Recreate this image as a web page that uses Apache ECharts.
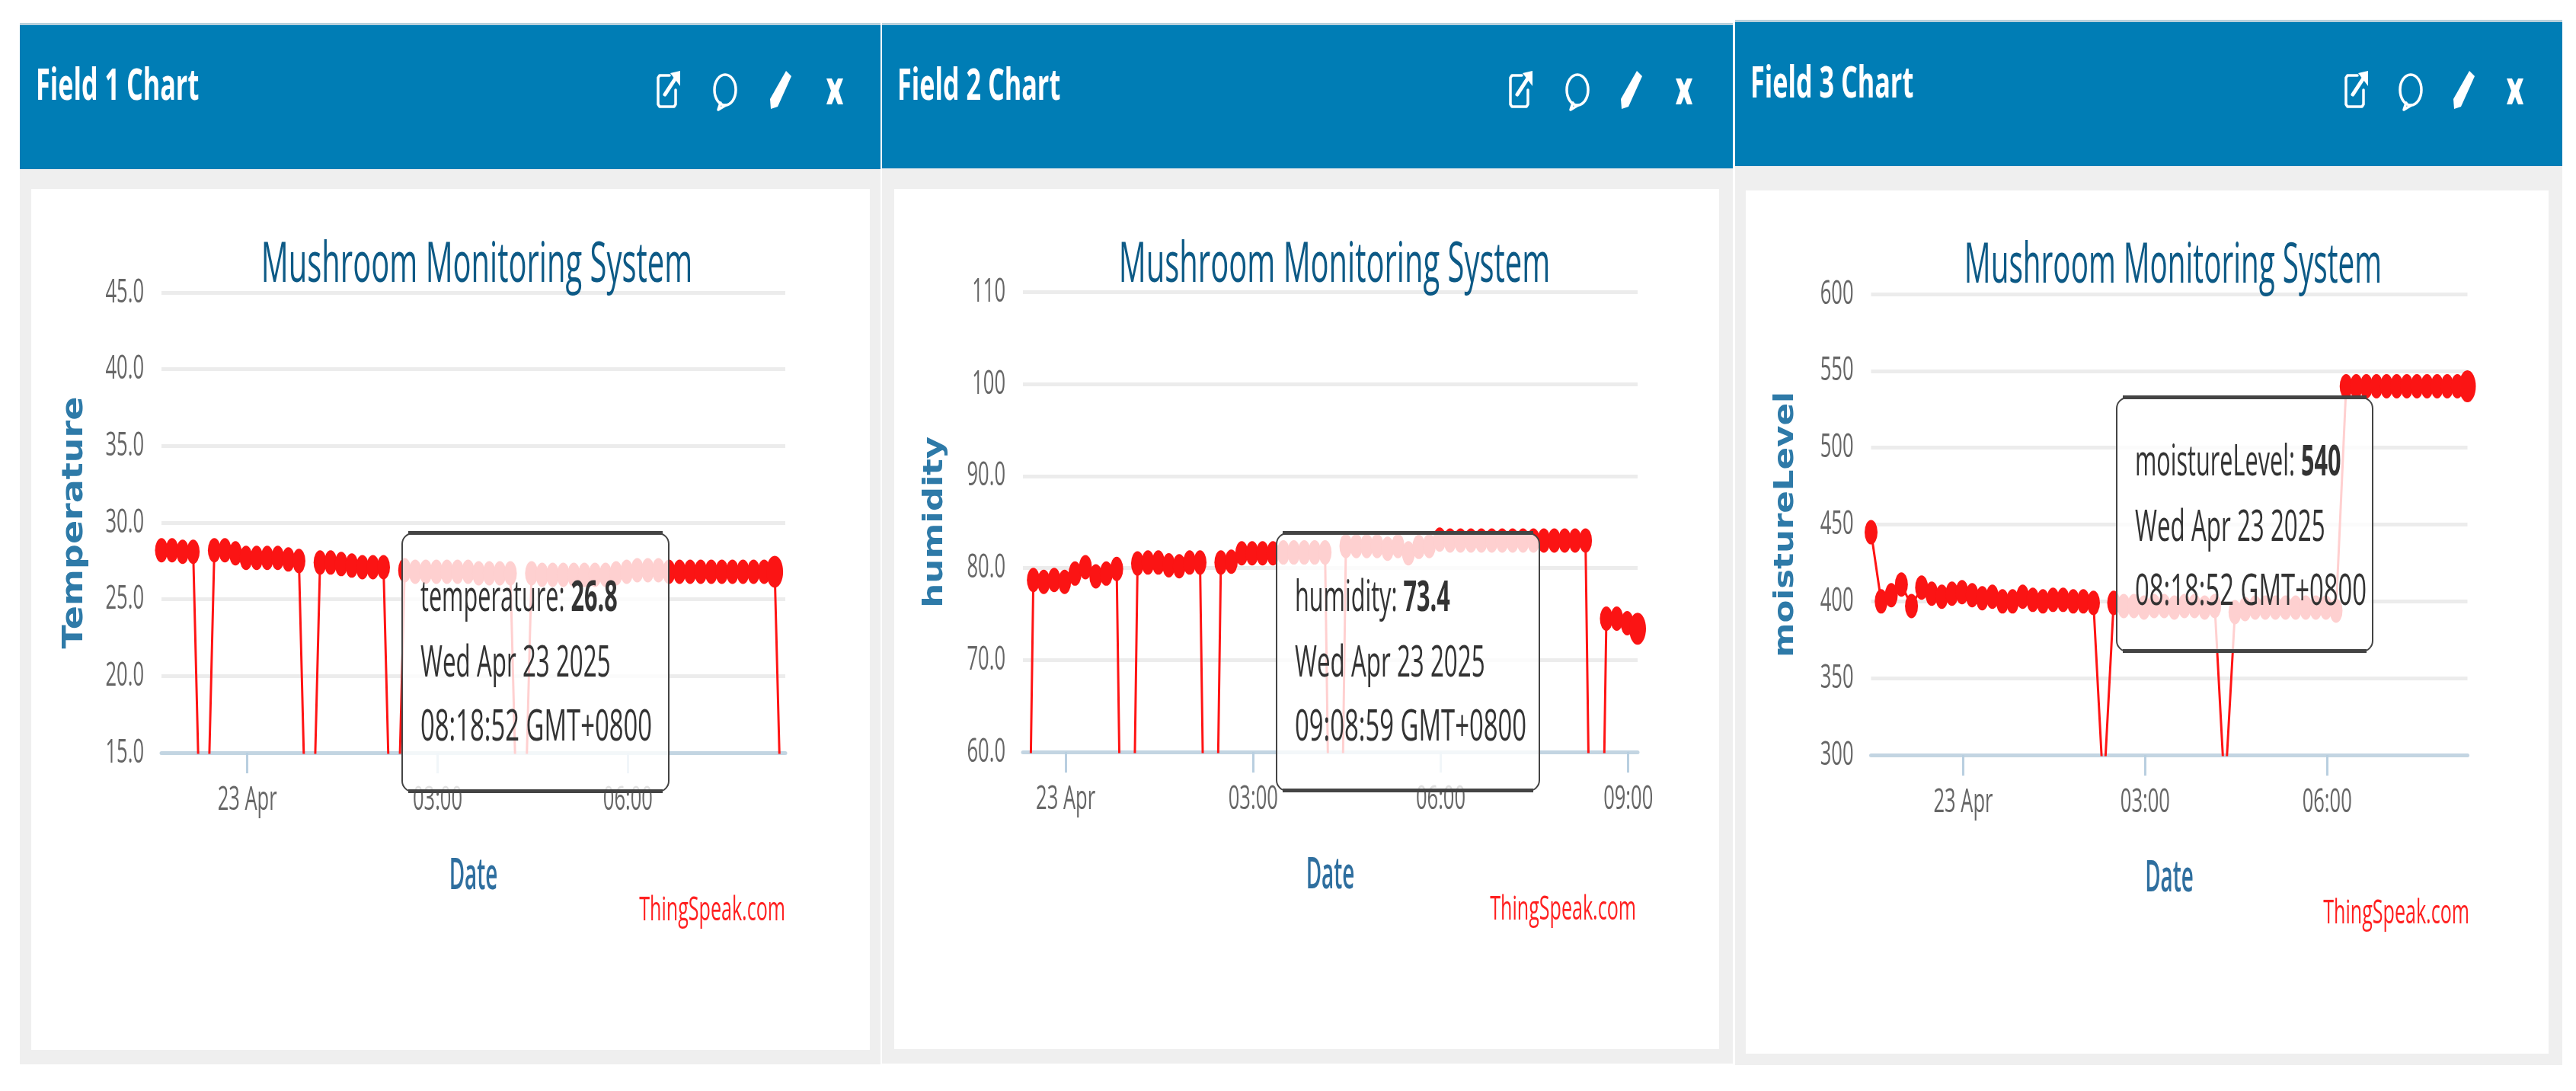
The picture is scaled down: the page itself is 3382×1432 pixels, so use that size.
<!DOCTYPE html>
<html><head><meta charset="utf-8">
<style>html,body{margin:0;padding:0;background:#fff}#c{width:3382px;height:1432px}</style>
<script src="https://cdn.jsdelivr.net/npm/echarts@6/dist/echarts.min.js"></script>
</head><body><div id="c"></div>
<script>
// ---- data ----
const temperatureTimes = ['2025-04-22 22:38:52','2025-04-22 22:48:52','2025-04-22 22:58:52','2025-04-22 23:08:52','2025-04-22 23:18:52','2025-04-22 23:28:52','2025-04-22 23:38:52','2025-04-22 23:48:52','2025-04-22 23:58:52','2025-04-23 00:08:52','2025-04-23 00:18:52','2025-04-23 00:28:52','2025-04-23 00:38:52','2025-04-23 00:48:52','2025-04-23 00:58:52','2025-04-23 01:08:52','2025-04-23 01:18:52','2025-04-23 01:28:52','2025-04-23 01:38:52','2025-04-23 01:48:52','2025-04-23 01:58:52','2025-04-23 02:08:52','2025-04-23 02:18:52','2025-04-23 02:28:52','2025-04-23 02:38:52','2025-04-23 02:48:52','2025-04-23 02:58:52','2025-04-23 03:08:52','2025-04-23 03:18:52','2025-04-23 03:28:52','2025-04-23 03:38:52','2025-04-23 03:48:52','2025-04-23 03:58:52','2025-04-23 04:08:52','2025-04-23 04:18:52','2025-04-23 04:28:52','2025-04-23 04:38:52','2025-04-23 04:48:52','2025-04-23 04:58:52','2025-04-23 05:08:52','2025-04-23 05:18:52','2025-04-23 05:28:52','2025-04-23 05:38:52','2025-04-23 05:48:52','2025-04-23 05:58:52','2025-04-23 06:08:52','2025-04-23 06:18:52','2025-04-23 06:28:52','2025-04-23 06:38:52','2025-04-23 06:48:52','2025-04-23 06:58:52','2025-04-23 07:08:52','2025-04-23 07:18:52','2025-04-23 07:28:52','2025-04-23 07:38:52','2025-04-23 07:48:52','2025-04-23 07:58:52','2025-04-23 08:08:52','2025-04-23 08:18:52','2025-04-23 08:28:52'];
const temperatureValues = [28.2,28.2,28.1,28.1,0,28.2,28.2,28.0,27.7,27.7,27.7,27.7,27.6,27.5,0,27.4,27.4,27.3,27.2,27.1,27.1,27.1,0,26.9,26.8,26.8,26.8,26.8,26.8,26.8,26.7,26.7,26.7,26.7,0,26.7,26.6,26.6,26.6,26.6,26.6,26.6,26.6,26.7,26.8,26.9,26.9,26.9,26.8,26.8,26.8,26.8,26.8,26.8,26.8,26.8,26.8,26.8,26.8,0];
const humidityTimes = ['2025-04-22 23:18:59','2025-04-22 23:28:59','2025-04-22 23:38:59','2025-04-22 23:48:59','2025-04-22 23:58:59','2025-04-23 00:08:59','2025-04-23 00:18:59','2025-04-23 00:28:59','2025-04-23 00:38:59','2025-04-23 00:48:59','2025-04-23 00:58:59','2025-04-23 01:08:59','2025-04-23 01:18:59','2025-04-23 01:28:59','2025-04-23 01:38:59','2025-04-23 01:48:59','2025-04-23 01:58:59','2025-04-23 02:08:59','2025-04-23 02:18:59','2025-04-23 02:28:59','2025-04-23 02:38:59','2025-04-23 02:48:59','2025-04-23 02:58:59','2025-04-23 03:08:59','2025-04-23 03:18:59','2025-04-23 03:28:59','2025-04-23 03:38:59','2025-04-23 03:48:59','2025-04-23 03:58:59','2025-04-23 04:08:59','2025-04-23 04:18:59','2025-04-23 04:28:59','2025-04-23 04:38:59','2025-04-23 04:48:59','2025-04-23 04:58:59','2025-04-23 05:08:59','2025-04-23 05:18:59','2025-04-23 05:28:59','2025-04-23 05:38:59','2025-04-23 05:48:59','2025-04-23 05:58:59','2025-04-23 06:08:59','2025-04-23 06:18:59','2025-04-23 06:28:59','2025-04-23 06:38:59','2025-04-23 06:48:59','2025-04-23 06:58:59','2025-04-23 07:08:59','2025-04-23 07:18:59','2025-04-23 07:28:59','2025-04-23 07:38:59','2025-04-23 07:48:59','2025-04-23 07:58:59','2025-04-23 08:08:59','2025-04-23 08:18:59','2025-04-23 08:28:59','2025-04-23 08:38:59','2025-04-23 08:48:59','2025-04-23 08:58:59','2025-04-23 09:08:59'];
const humidityValues = [0,78.7,78.5,78.7,78.5,79.4,80.1,79.1,79.4,79.9,0,80.5,80.6,80.6,80.3,80.2,80.6,80.6,0,80.6,80.7,81.6,81.6,81.6,81.6,81.7,81.7,81.7,81.7,81.7,0,82.4,82.4,82.4,82.4,82.1,82.4,81.6,82.3,82.4,83.1,83,83,83,83,83,83,83,83,83,83,83,83,83,83,0,74.5,74.5,74,73.4];
const moistureTimes = ['2025-04-22 22:28:52','2025-04-22 22:38:52','2025-04-22 22:48:52','2025-04-22 22:58:52','2025-04-22 23:08:52','2025-04-22 23:18:52','2025-04-22 23:28:52','2025-04-22 23:38:52','2025-04-22 23:48:52','2025-04-22 23:58:52','2025-04-23 00:08:52','2025-04-23 00:18:52','2025-04-23 00:28:52','2025-04-23 00:38:52','2025-04-23 00:48:52','2025-04-23 00:58:52','2025-04-23 01:08:52','2025-04-23 01:18:52','2025-04-23 01:28:52','2025-04-23 01:38:52','2025-04-23 01:48:52','2025-04-23 01:58:52','2025-04-23 02:08:52','2025-04-23 02:18:52','2025-04-23 02:28:52','2025-04-23 02:38:52','2025-04-23 02:48:52','2025-04-23 02:58:52','2025-04-23 03:08:52','2025-04-23 03:18:52','2025-04-23 03:28:52','2025-04-23 03:38:52','2025-04-23 03:48:52','2025-04-23 03:58:52','2025-04-23 04:08:52','2025-04-23 04:18:52','2025-04-23 04:28:52','2025-04-23 04:38:52','2025-04-23 04:48:52','2025-04-23 04:58:52','2025-04-23 05:08:52','2025-04-23 05:18:52','2025-04-23 05:28:52','2025-04-23 05:38:52','2025-04-23 05:48:52','2025-04-23 05:58:52','2025-04-23 06:08:52','2025-04-23 06:18:52','2025-04-23 06:28:52','2025-04-23 06:38:52','2025-04-23 06:48:52','2025-04-23 06:58:52','2025-04-23 07:08:52','2025-04-23 07:18:52','2025-04-23 07:28:52','2025-04-23 07:38:52','2025-04-23 07:48:52','2025-04-23 07:58:52','2025-04-23 08:08:52','2025-04-23 08:18:52'];
const moistureValues = [445,400,404,411,397,409,405,403,405,406,404,402,403,400,400,403,401,400,401,401,400,400,399,275,399,397,397,396,397,397,396,397,397,396,397,275,393,395,396,396,396,396,396,396,396,396,394,540,540,540,540,540,540,540,540,540,540,540,540,540];
const temperatureTicks = [45,40,35,30,25,20,15];
const humidityTicks = [110,100,90,80,70,60];
const moistureTicks = [600,550,500,450,400,350,300];
const panelNames = ['Field 1 Chart','Field 2 Chart','Field 3 Chart'];
const chartTitle = 'Mushroom Monitoring System';
const axisNamesY = ['Temperature','humidity','moistureLevel'];
const xTickTimes = ['2025-04-23 00:00:00','2025-04-23 03:00:00','2025-04-23 06:00:00','2025-04-23 09:00:00'];
const tipSeries = ['temperature','humidity','moistureLevel'];
const tipValues = ['26.8','73.4','540'];
const tipTimes = ['08:18:52 GMT+0800','09:08:59 GMT+0800','08:18:52 GMT+0800'];
const hoverIndex = [58,59,59];

// ---- layout ----
const SQ = 'Open Sans';
const ms = s => Date.parse(s.replace(' ','T')+'Z');
const pan = [
 {x0:26,x1:1156,hTop:32,hBot:222,bot:1397,wx0:41,wx1:1142,wTop:248,wy1:1378, g:[212,1031,384,988], iconX:[878,952,1025,1096],titleX:621,titleY:347,titleFs:74,headX:47,headY:114,tk:[1031,1195],nameGapY:95,nameFs:46,tip:[528,878,700,1039]},
 {x0:1158,x1:2275,hTop:32,hBot:221,bot:1396,wx0:1174,wx1:2257,wTop:248,wy1:1377, g:[1343,2150,383.5,987], iconX:[1997,2071,2142,2211],titleX:1747,titleY:347,titleFs:74,headX:1178,headY:114,tk:[2148,1194],nameGapY:97,nameFs:45,tip:[1676,2021,700,1038]},
 {x0:2278,x1:3364,hTop:28,hBot:218,bot:1398,wx0:2292,wx1:3346,wTop:250,wy1:1383, g:[2456.5,3239.5,386,991], iconX:[3094,3165,3235,3302],titleX:2848,titleY:349,titleFs:73,headX:2298,headY:111,tk:[3242,1199],nameGapY:94,nameFs:43.5,tip:[2779,3115,522,855]}
];
const dataSets = [
 [temperatureTimes,temperatureValues,temperatureTicks],
 [humidityTimes,humidityValues,humidityTicks],
 [moistureTimes,moistureValues,moistureTicks]
];
const graphics=[];
const txt=(text,x,y,o)=>graphics.push({type:'text',x,y,z:o.z||5,scaleX:o.sx||0.6,style:Object.assign({text,fontFamily:SQ,fontSize:o.fs,fill:o.fill,fontWeight:o.w||'normal',textAlign:o.align||'left',textVerticalAlign:'middle'},o.extra||{})});
const stroke={fill:null,stroke:'#fff',lineWidth:3.5,lineJoin:'round',lineCap:'round'};
pan.forEach((p,i)=>{
 graphics.push({type:'rect',z:0,shape:{x:p.x0,y:p.hTop,width:p.x1-p.x0,height:p.bot-p.hTop},style:{fill:'#efefef'}});
 graphics.push({type:'rect',z:1,shape:{x:p.x0,y:p.hTop,width:p.x1-p.x0,height:p.hBot-p.hTop},style:{fill:'#007db5'}});
 graphics.push({type:'rect',z:1,shape:{x:p.x0,y:p.hTop-2,width:p.x1-p.x0,height:3},style:{fill:'#b7d0dc'}});
 graphics.push({type:'rect',z:1,shape:{x:p.wx0,y:p.wTop,width:p.wx1-p.wx0,height:p.wy1-p.wTop},style:{fill:'#fff'}});
 txt(panelNames[i],p.headX,p.headY,{fs:58,fill:'#fff',w:'bold',sx:0.59,z:6});
 // header icons
 const [ix0,ix1,ix2,ix3]=p.iconX;
 graphics.push({type:'polyline',z:6,shape:{points:[[ix0+1,99],[ix0-12,99],[ix0-14,102],[ix0-14,137],[ix0-12,140],[ix0+7,140],[ix0+9,137],[ix0+9,118]]},style:stroke});
 graphics.push({type:'polyline',z:6,shape:{points:[[ix0-5,124],[ix0+10,101]]},style:Object.assign({},stroke,{lineWidth:5})});
 graphics.push({type:'polygon',z:6,shape:{points:[[ix0+2,96],[ix0+15,93],[ix0+15,113]]},style:{fill:'#fff'}});
 graphics.push({type:'ellipse',z:6,shape:{cx:ix1,cy:118,rx:14,ry:20},style:stroke});
 graphics.push({type:'polyline',z:6,shape:{points:[[ix1-6,135],[ix1-9,144],[ix1+1,138]]},style:stroke});
 graphics.push({type:'polygon',z:6,shape:{points:[[ix2+7,93],[ix2+14,100],[ix2-4,140],[ix2-13,143],[ix2-14,130]]},style:{fill:'#fff'}});
 graphics.push({type:'polygon',z:6,shape:{points:[[ix3-11,103],[ix3-4,103],[ix3,112],[ix3+4,103],[ix3+11,103],[ix3+5,119],[ix3+11,137],[ix3+4,137],[ix3,127],[ix3-4,137],[ix3-11,137],[ix3-5,119]]},style:{fill:'#fff'}});
 // credit
 txt('ThingSpeak.com',p.tk[0],p.tk[1],{fs:44,fill:'#ff2020',align:'right',sx:0.57,z:6});
 // tooltip
 const [a,b,c,d]=p.tip;
 graphics.push({type:'rect',z:20,shape:{x:a,y:c,width:b-a,height:d-c,r:[14,14,14,14]},style:{fill:'rgba(255,255,255,0.8)',stroke:'#444',lineWidth:2}});
 graphics.push({type:'rect',z:21,shape:{x:a+8,y:c-3,width:b-a-16,height:5},style:{fill:'#444'}});
 graphics.push({type:'rect',z:21,shape:{x:a+8,y:d-3,width:b-a-16,height:5},style:{fill:'#444'}});
 const tx=a+24,l1=c+86,l2=c+172,l3=c+256;
 graphics.push({type:'text',z:22,x:tx,y:l1,scaleX:0.547,style:{text:'{n|'+tipSeries[i]+': }{v|'+tipValues[i]+'}',textVerticalAlign:'middle',rich:{n:{fontFamily:SQ,fontSize:56,fill:'#333'},v:{fontFamily:SQ,fontSize:56,fontWeight:'bold',fill:'#333'}}}});
 txt('Wed Apr 23 2025',tx,l2,{fs:56,fill:'#333',z:22,sx:0.56});
 txt(tipTimes[i],tx,l3,{fs:56,fill:'#333',z:22,sx:0.587});
});

const grids=[],xAxes=[],yAxes=[],series=[],titles=[];
pan.forEach((p,i)=>{
 const [t,v,ticks]=dataSets[i];
 grids.push({left:p.g[0],width:p.g[1]-p.g[0],top:p.g[2],height:p.g[3]-p.g[2],z:3});
 titles.push({text:chartTitle,left:p.titleX,top:p.titleY-40,textAlign:'center',z:5,textStyle:{fontFamily:SQ,fontSize:p.titleFs,fontWeight:'normal',color:'#0d5a86'}});
 const tvals=xTickTimes.map(ms).filter(m=>m<=ms(t[t.length-1]));
 xAxes.push({type:'value',gridIndex:i,min:ms(t[0]),max:ms(t[t.length-1]),z:4,
  name:'Date',nameLocation:'middle',nameGap:133,nameMoveOverlap:false,nameTextStyle:{fontFamily:SQ,fontSize:58,fontWeight:600,color:'#2f6f9f'},
  axisLine:{lineStyle:{color:'#c3d5e2',width:5}},
  axisTick:{show:true,length:27,lineStyle:{color:'#b9cfe0',width:3},customValues:tvals},
  axisLabel:{fontFamily:SQ,fontSize:44,color:'#666',margin:40,hideOverlap:false,customValues:tvals,formatter:val=>{const d=new Date(val);return d.getUTCHours()===0?'23 Apr':String(d.getUTCHours()).padStart(2,'0')+':00';}},
  splitLine:{show:false}});
 const max=ticks[0],min=ticks[ticks.length-1],iv=ticks[0]-ticks[1];
 yAxes.push({type:'value',gridIndex:i,min,max,interval:iv,z:4,
  name:axisNamesY[i],nameLocation:'middle',nameGap:p.nameGapY,nameMoveOverlap:false,nameRotate:90,nameTextStyle:{fontFamily:'DejaVu Sans',fontSize:p.nameFs,fontWeight:'bold',color:'#2e7aa8'},
  axisLine:{show:false},axisTick:{show:false},
  axisLabel:{fontFamily:SQ,fontSize:44,color:'#666',margin:23,formatter:val=>(i===2||val>=100)?String(val):val.toFixed(1)},
  splitLine:{show:true,lineStyle:{color:'#ececec',width:5}}});
 series.push({type:'line',xAxisIndex:i,yAxisIndex:i,z:10,animation:false,silent:true,
  data:t.map((s,k)=>[ms(s),v[k]]),showSymbol:true,showAllSymbols:true,symbol:'circle',
  symbolSize:(val,par)=>par.dataIndex===hoverIndex[i]?[22,42]:[17,32],
  lineStyle:{color:'#ff1414',width:3},itemStyle:{color:'#fb1414'}});
});

const chart=echarts.init(document.getElementById('c'),null,{renderer:'canvas'});
chart.setOption({animation:false,backgroundColor:'#fff',title:titles,grid:grids,xAxis:xAxes,yAxis:yAxes,series,graphic:{elements:graphics},tooltip:{show:false}});

// the reference is a horizontally squeezed screenshot: squeeze the library's own labels too
const SCALE={44:0.58,74:0.54,73:0.53,58:0.48};
function squeeze(el){
 if(el.childrenRef&&el.style&&!el.__sq){
  if(el.style.fontFamily===SQ&&SCALE[el.style.fontSize]&&el.style.fill!=='#fff'&&el.style.fill!=='#ff2020'&&el.scaleX===1){el.scaleX=SCALE[el.style.fontSize];el.__sq=1;el.dirty&&el.dirty();}
  else if(el.style.fontFamily==='DejaVu Sans'){el.scaleY=0.8;el.__sq=1;el.dirty&&el.dirty();}
 }
 const ch=el.childrenRef?el.childrenRef():null;
 if(ch)ch.forEach(squeeze);
}
chart.getZr().storage.getRoots().forEach(squeeze);
chart.getZr().refresh();
</script></body></html>
